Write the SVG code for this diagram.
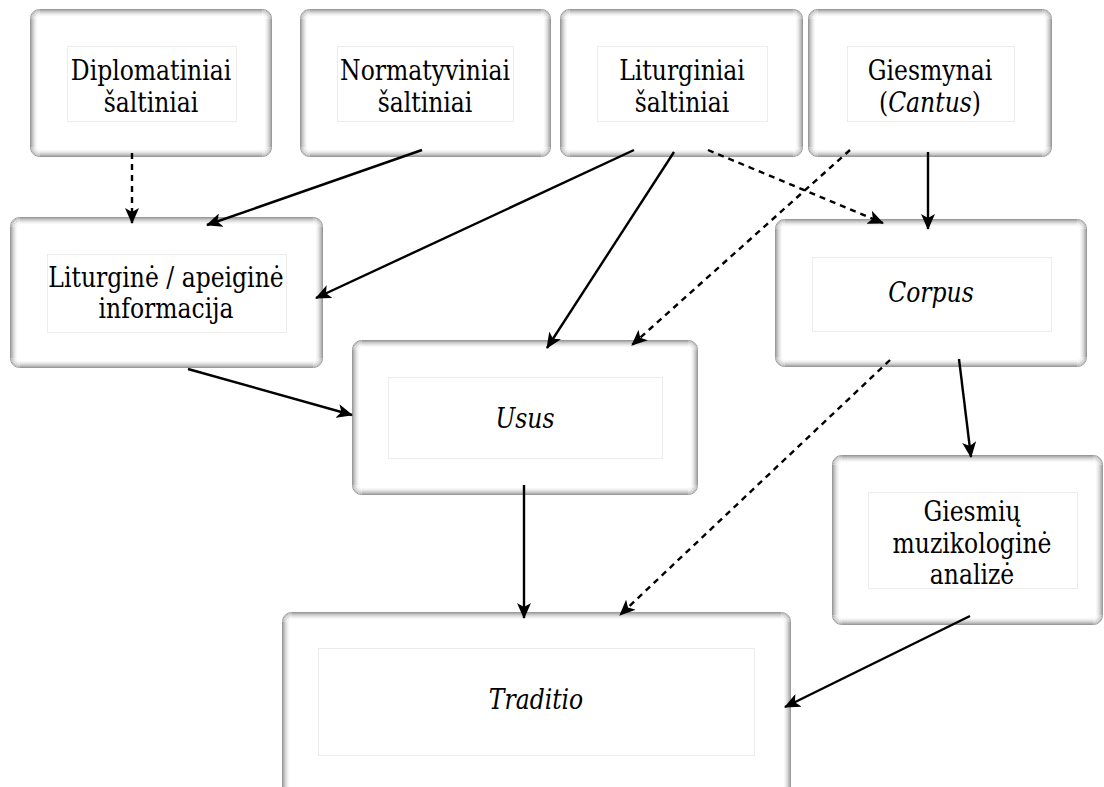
<svg xmlns="http://www.w3.org/2000/svg" width="1104" height="787" viewBox="0 0 1104 787">
<style>
.b0{fill:#fff;stroke:#9a9a9a;stroke-width:1}
.b1{fill:none;stroke:#b0b0b0;stroke-width:1}
.b2{fill:none;stroke:#c4c4c4;stroke-width:1}
.b3{fill:none;stroke:#d5d5d5;stroke-width:1}
.b4{fill:none;stroke:#e3e3e3;stroke-width:1}
.b5{fill:none;stroke:#efefef;stroke-width:1}
.b6{fill:none;stroke:#f7f7f7;stroke-width:1}
.inner{fill:none;stroke:#ececec;stroke-width:1}
.c{fill:none;stroke:#000;stroke-width:2.4;marker-end:url(#ah)}
.d{stroke-dasharray:6 5}
text{font-family:"DejaVu Serif","Liberation Serif",serif;font-size:27px;text-anchor:middle;fill:#000}
.it{font-style:italic}
</style>
<defs>
<marker id="ah" markerWidth="16" markerHeight="14" refX="15" refY="7" orient="auto" markerUnits="userSpaceOnUse">
<path d="M0,0 L16,7 L0,14 L4,7 z" fill="#000"/>
</marker>
</defs>
<g id="n-diplomatiniai">
<rect class="b0" x="30.5" y="9.5" width="241" height="147" rx="9"/>
<rect class="b1" x="31.5" y="10.5" width="239" height="145" rx="8"/>
<rect class="b2" x="32.5" y="11.5" width="237" height="143" rx="7"/>
<rect class="b3" x="33.5" y="12.5" width="235" height="141" rx="6"/>
<rect class="b4" x="34.5" y="13.5" width="233" height="139" rx="5"/>
<rect class="b5" x="35.5" y="14.5" width="231" height="137" rx="4"/>
<rect class="b6" x="36.5" y="15.5" width="229" height="135" rx="3"/>
<rect class="inner" x="67.5" y="46.5" width="169" height="75"/>
<g transform="translate(151 0) scale(0.87 1)">
<text x="0" y="80">Diplomatiniai</text>
<text x="0" y="112">šaltiniai</text>
</g>
</g>
<g id="n-normatyviniai">
<rect class="b0" x="300.5" y="9.5" width="250" height="147" rx="9"/>
<rect class="b1" x="301.5" y="10.5" width="248" height="145" rx="8"/>
<rect class="b2" x="302.5" y="11.5" width="246" height="143" rx="7"/>
<rect class="b3" x="303.5" y="12.5" width="244" height="141" rx="6"/>
<rect class="b4" x="304.5" y="13.5" width="242" height="139" rx="5"/>
<rect class="b5" x="305.5" y="14.5" width="240" height="137" rx="4"/>
<rect class="b6" x="306.5" y="15.5" width="238" height="135" rx="3"/>
<rect class="inner" x="337.5" y="46.5" width="176" height="75"/>
<g transform="translate(425 0) scale(0.87 1)">
<text x="0" y="80">Normatyviniai</text>
<text x="0" y="112">šaltiniai</text>
</g>
</g>
<g id="n-liturginiai">
<rect class="b0" x="560.5" y="9.5" width="242" height="147" rx="9"/>
<rect class="b1" x="561.5" y="10.5" width="240" height="145" rx="8"/>
<rect class="b2" x="562.5" y="11.5" width="238" height="143" rx="7"/>
<rect class="b3" x="563.5" y="12.5" width="236" height="141" rx="6"/>
<rect class="b4" x="564.5" y="13.5" width="234" height="139" rx="5"/>
<rect class="b5" x="565.5" y="14.5" width="232" height="137" rx="4"/>
<rect class="b6" x="566.5" y="15.5" width="230" height="135" rx="3"/>
<rect class="inner" x="597.5" y="46.5" width="170" height="75"/>
<g transform="translate(682 0) scale(0.87 1)">
<text x="0" y="80">Liturginiai</text>
<text x="0" y="112">šaltiniai</text>
</g>
</g>
<g id="n-giesmynai">
<rect class="b0" x="808.5" y="9.5" width="243" height="147" rx="9"/>
<rect class="b1" x="809.5" y="10.5" width="241" height="145" rx="8"/>
<rect class="b2" x="810.5" y="11.5" width="239" height="143" rx="7"/>
<rect class="b3" x="811.5" y="12.5" width="237" height="141" rx="6"/>
<rect class="b4" x="812.5" y="13.5" width="235" height="139" rx="5"/>
<rect class="b5" x="813.5" y="14.5" width="233" height="137" rx="4"/>
<rect class="b6" x="814.5" y="15.5" width="231" height="135" rx="3"/>
<rect class="inner" x="847.5" y="46.5" width="167" height="75"/>
<g transform="translate(930 0) scale(0.87 1)">
<text x="0" y="80">Giesmynai</text>
<text x="0" y="112">(<tspan class="it">Cantus</tspan>)</text>
</g>
</g>
<g id="n-liturgine">
<rect class="b0" x="10.5" y="217.5" width="312" height="150" rx="9"/>
<rect class="b1" x="11.5" y="218.5" width="310" height="148" rx="8"/>
<rect class="b2" x="12.5" y="219.5" width="308" height="146" rx="7"/>
<rect class="b3" x="13.5" y="220.5" width="306" height="144" rx="6"/>
<rect class="b4" x="14.5" y="221.5" width="304" height="142" rx="5"/>
<rect class="b5" x="15.5" y="222.5" width="302" height="140" rx="4"/>
<rect class="b6" x="16.5" y="223.5" width="300" height="138" rx="3"/>
<rect class="inner" x="47.5" y="254.5" width="239" height="78"/>
<g transform="translate(166 0) scale(0.87 1)">
<text x="0" y="287">Liturginė / apeiginė</text>
<text x="0" y="318">informacija</text>
</g>
</g>
<g id="n-corpus">
<rect class="b0" x="775.5" y="219.5" width="311" height="147" rx="9"/>
<rect class="b1" x="776.5" y="220.5" width="309" height="145" rx="8"/>
<rect class="b2" x="777.5" y="221.5" width="307" height="143" rx="7"/>
<rect class="b3" x="778.5" y="222.5" width="305" height="141" rx="6"/>
<rect class="b4" x="779.5" y="223.5" width="303" height="139" rx="5"/>
<rect class="b5" x="780.5" y="224.5" width="301" height="137" rx="4"/>
<rect class="b6" x="781.5" y="225.5" width="299" height="135" rx="3"/>
<rect class="inner" x="812.5" y="257.5" width="239" height="74"/>
<g transform="translate(931 0) scale(0.87 1)">
<text class="it" x="0" y="302">Corpus</text>
</g>
</g>
<g id="n-usus">
<rect class="b0" x="352.5" y="340.5" width="345" height="154" rx="9"/>
<rect class="b1" x="353.5" y="341.5" width="343" height="152" rx="8"/>
<rect class="b2" x="354.5" y="342.5" width="341" height="150" rx="7"/>
<rect class="b3" x="355.5" y="343.5" width="339" height="148" rx="6"/>
<rect class="b4" x="356.5" y="344.5" width="337" height="146" rx="5"/>
<rect class="b5" x="357.5" y="345.5" width="335" height="144" rx="4"/>
<rect class="b6" x="358.5" y="346.5" width="333" height="142" rx="3"/>
<rect class="inner" x="388.5" y="377.5" width="274" height="81"/>
<g transform="translate(525 0) scale(0.87 1)">
<text class="it" x="0" y="428">Usus</text>
</g>
</g>
<g id="n-giesmiu">
<rect class="b0" x="832.5" y="455.5" width="270" height="169" rx="9"/>
<rect class="b1" x="833.5" y="456.5" width="268" height="167" rx="8"/>
<rect class="b2" x="834.5" y="457.5" width="266" height="165" rx="7"/>
<rect class="b3" x="835.5" y="458.5" width="264" height="163" rx="6"/>
<rect class="b4" x="836.5" y="459.5" width="262" height="161" rx="5"/>
<rect class="b5" x="837.5" y="460.5" width="260" height="159" rx="4"/>
<rect class="b6" x="838.5" y="461.5" width="258" height="157" rx="3"/>
<rect class="inner" x="868.5" y="492.5" width="209" height="96"/>
<g transform="translate(972 0) scale(0.87 1)">
<text x="0" y="521">Giesmių</text>
<text x="0" y="553">muzikologinė</text>
<text x="0" y="584">analizė</text>
</g>
</g>
<g id="n-traditio">
<rect class="b0" x="282.5" y="612.5" width="508" height="190" rx="9"/>
<rect class="b1" x="283.5" y="613.5" width="506" height="188" rx="8"/>
<rect class="b2" x="284.5" y="614.5" width="504" height="186" rx="7"/>
<rect class="b3" x="285.5" y="615.5" width="502" height="184" rx="6"/>
<rect class="b4" x="286.5" y="616.5" width="500" height="182" rx="5"/>
<rect class="b5" x="287.5" y="617.5" width="498" height="180" rx="4"/>
<rect class="b6" x="288.5" y="618.5" width="496" height="178" rx="3"/>
<rect class="inner" x="318.5" y="648.5" width="436" height="107"/>
<g transform="translate(536 0) scale(0.87 1)">
<text class="it" x="0" y="709">Traditio</text>
</g>
</g>
<g id="connectors">
<line class="c d" x1="132" y1="153" x2="132" y2="223"/>
<line class="c" x1="422" y1="150" x2="207" y2="225"/>
<line class="c" x1="634" y1="150" x2="316" y2="298"/>
<line class="c" x1="674" y1="152" x2="547" y2="348"/>
<line class="c d" x1="708" y1="150" x2="883" y2="223"/>
<line class="c d" x1="850" y1="150" x2="632" y2="345"/>
<line class="c" x1="928" y1="152" x2="928" y2="229"/>
<line class="c" x1="188" y1="369" x2="352" y2="415"/>
<line class="c" x1="524" y1="485" x2="524" y2="618"/>
<line class="c d" x1="890" y1="360" x2="620" y2="615"/>
<line class="c" x1="959" y1="359" x2="971" y2="457"/>
<line class="c" x1="970" y1="616" x2="785" y2="707"/>
</g>
</svg>
